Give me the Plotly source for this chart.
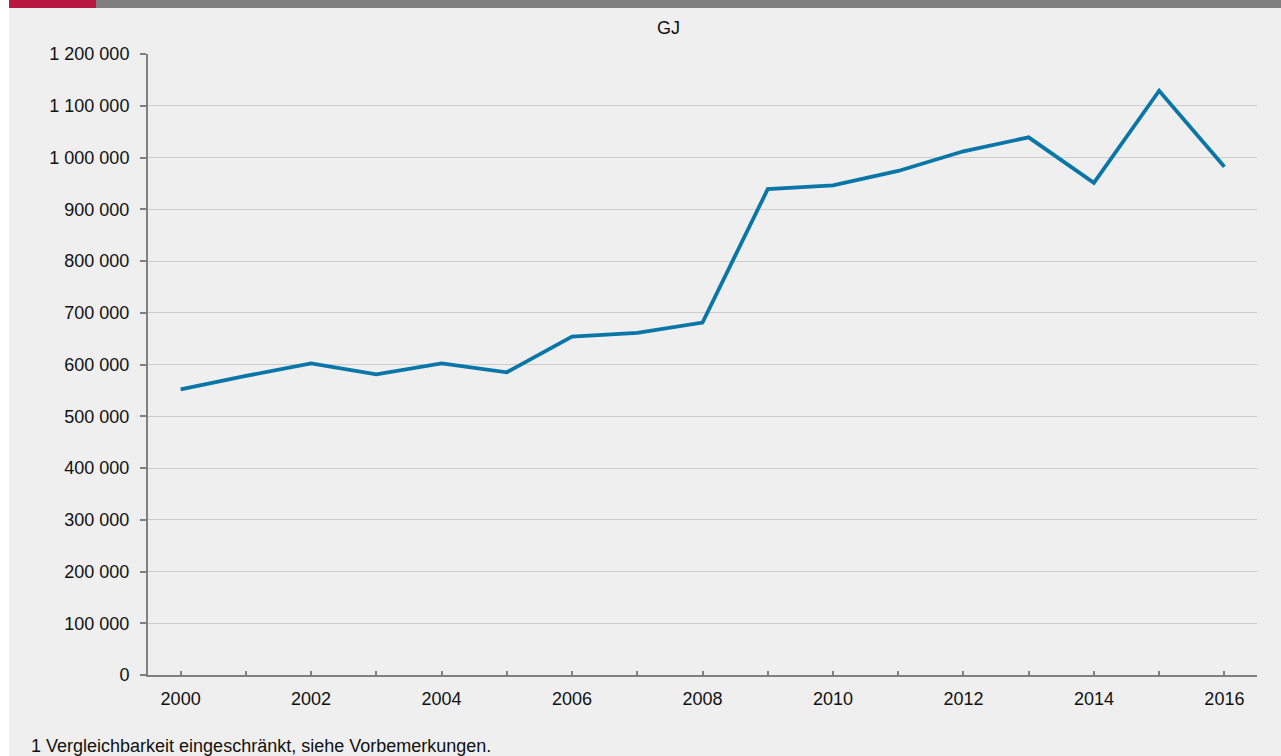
import plotly.graph_objects as go

years = list(range(2000, 2017))
values = [552000, 578000, 602000, 581000, 602000, 585000, 654000, 661000, 681000,
          939000, 946000, 974000, 1012000, 1039000, 951000, 1129000, 982000]
y_ticks = list(range(0, 1200001, 100000))
x_ticks = list(range(2000, 2017, 2))
unit_label = "GJ"
footnote = "1 Vergleichbarkeit eingeschränkt, siehe Vorbemerkungen."

W, H = 1281, 756
L, R, T, B = 148, 24, 54, 81
pw, ph = W - L - R, H - T - B


def px(x):
    return (x - L) / pw


def py(y):
    return (H - B - y) / ph


bg = "#eeefee"
font = "Liberation Sans, Arial, Helvetica, sans-serif"

fig = go.Figure()
fig.add_trace(go.Scatter(x=years, y=values, mode="lines",
                         line=dict(color="#0a76a8", width=3.8),
                         hoverinfo="x+y", showlegend=False))

fig.update_layout(
    width=W, height=H,
    margin=dict(l=L, r=R, t=T, b=B, pad=0),
    paper_bgcolor=bg, plot_bgcolor=bg,
    separators=". ",
    font=dict(family=font, size=18, color="#111111"),
    xaxis=dict(range=[1999.5, 2016.5], tickvals=x_ticks, showgrid=False,
               ticks="inside", ticklen=4, tickwidth=1.5, tickcolor="#808080",
               minor=dict(dtick=1, tick0=2000, ticks="inside", ticklen=4,
                          tickwidth=1.5, tickcolor="#808080", showgrid=False),
               showline=True, linecolor="#808080", linewidth=2,
               ticklabelstandoff=6, zeroline=False, fixedrange=True),
    yaxis=dict(range=[0, 1200000], tickvals=y_ticks, tickformat=",d",
               showgrid=True, gridcolor="#cdcdcd", gridwidth=1,
               ticks="outside", ticklen=6, tickwidth=1.5, tickcolor="#808080",
               showline=True, linecolor="#808080", linewidth=2,
               zeroline=False, ticklabelstandoff=7, fixedrange=True),
    shapes=[
        dict(type="rect", xref="paper", yref="paper", x0=px(0), x1=px(9),
             y0=py(H), y1=py(0), fillcolor="#ffffff", line=dict(width=0), layer="below"),
        dict(type="rect", xref="paper", yref="paper", x0=px(9), x1=px(96),
             y0=py(8), y1=py(0), fillcolor="#b8173f", line=dict(width=0)),
        dict(type="rect", xref="paper", yref="paper", x0=px(96), x1=px(W),
             y0=py(8), y1=py(0), fillcolor="#7f7f7f", line=dict(width=0)),
    ],
    annotations=[
        dict(text=unit_label, xref="paper", yref="paper", x=px(668), y=py(28),
             xanchor="center", yanchor="middle", showarrow=False,
             font=dict(family=font, size=18, color="#111111")),
        dict(text=footnote, xref="paper", yref="paper", x=px(29), y=py(746),
             xanchor="left", yanchor="middle", showarrow=False,
             font=dict(family=font, size=18, color="#111111")),
    ],
)

fig.write_html("out.html", config={"displayModeBar": False},
               post_script="document.body.style.margin='0';document.body.style.overflow='hidden';")
